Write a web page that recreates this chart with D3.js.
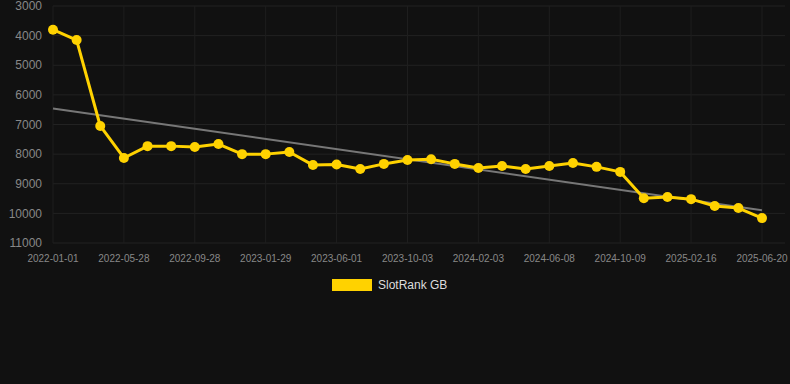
<!DOCTYPE html>
<html>
<head>
<meta charset="utf-8">
<script src="https://cdn.jsdelivr.net/npm/d3@7"></script>
<style>
  html, body { margin: 0; padding: 0; background: #111111; }
  svg { display: block; font-family: "Liberation Sans", Arial, sans-serif; }
</style>
</head>
<body>
<div id="chart"></div>
<script>
// dates between the labelled ones are estimates; the axis is a plain category axis
const dates = [
  "2022-01-01", "2022-02-19", "2022-04-09", "2022-05-28", "2022-07-08", "2022-08-18",
  "2022-09-28", "2022-11-08", "2022-12-19", "2023-01-29", "2023-03-11", "2023-04-21",
  "2023-06-01", "2023-07-12", "2023-08-23", "2023-10-03", "2023-11-13", "2023-12-24",
  "2024-02-03", "2024-03-15", "2024-04-27", "2024-06-08", "2024-07-19", "2024-08-29",
  "2024-10-09", "2024-11-21", "2025-01-04", "2025-02-16", "2025-03-29", "2025-05-09",
  "2025-06-20"
];
const rankValues = [
  3800, 4150, 7050, 8130, 7730, 7730, 7760, 7660, 8000, 8000, 7930,
  8370, 8350, 8500, 8330, 8200, 8170, 8330, 8470, 8400, 8500, 8400,
  8300, 8430, 8600, 9490, 9450, 9520, 9750, 9820, 10160
];
const yTicks = [3000, 4000, 5000, 6000, 7000, 8000, 9000, 10000, 11000];
const seriesName = "SlotRank GB";

const width = 790, height = 384;
const margin = { top: 6, right: 28, bottom: 141, left: 53 };
const lineColor = "#ffd200";

const svg = d3.select("#chart").append("svg")
  .attr("width", width)
  .attr("height", height);

const x = d3.scalePoint()
  .domain(d3.range(dates.length))
  .range([margin.left, width - margin.right]);

const y = d3.scaleLinear()
  .domain([3000, 11000])
  .range([margin.top, height - margin.bottom]);

// grid
svg.append("g")
  .selectAll("line")
  .data(yTicks)
  .join("line")
  .attr("x1", margin.left)
  .attr("x2", width - 5)
  .attr("y1", d => y(d))
  .attr("y2", d => y(d))
  .attr("stroke", "#222")
  .attr("stroke-width", 1);

const labelIdx = d3.range(0, dates.length, 3);

svg.append("g")
  .selectAll("line")
  .data(labelIdx)
  .join("line")
  .attr("x1", d => x(d))
  .attr("x2", d => x(d))
  .attr("y1", margin.top)
  .attr("y2", y(11000))
  .attr("stroke", "#1e1e1e")
  .attr("stroke-width", 1);

// y axis labels
svg.append("g")
  .selectAll("text")
  .data(yTicks)
  .join("text")
  .attr("x", 42)
  .attr("y", d => y(d))
  .attr("dy", "0.35em")
  .attr("text-anchor", "end")
  .attr("fill", "#888")
  .style("font-size", "12px")
  .text(d => d);

// x axis labels
svg.append("g")
  .selectAll("text")
  .data(labelIdx)
  .join("text")
  .attr("x", d => x(d))
  .attr("y", y(11000) + 19)
  .attr("text-anchor", "middle")
  .attr("fill", "#888")
  .style("font-size", "10px")
  .text(d => dates[d]);

// trend line (least squares over the points)
const idx = d3.range(rankValues.length);
const mx = d3.mean(idx), my = d3.mean(rankValues);
const slope = d3.sum(idx, i => (i - mx) * (rankValues[i] - my)) / d3.sum(idx, i => (i - mx) ** 2);
const icpt = my - slope * mx;
const first = 0, last = rankValues.length - 1;

svg.append("line")
  .attr("x1", x(first))
  .attr("y1", y(icpt + slope * first))
  .attr("x2", x(last))
  .attr("y2", y(icpt + slope * last))
  .attr("stroke", "#777")
  .attr("stroke-width", 2);

// series
const line = d3.line()
  .x((d, i) => x(i))
  .y(d => y(d));

svg.append("path")
  .datum(rankValues)
  .attr("d", line)
  .attr("fill", "none")
  .attr("stroke", lineColor)
  .attr("stroke-width", 3)
  .attr("stroke-linejoin", "round");

svg.append("g")
  .selectAll("circle")
  .data(rankValues)
  .join("circle")
  .attr("cx", (d, i) => x(i))
  .attr("cy", d => y(d))
  .attr("r", 5)
  .attr("fill", lineColor);

// legend
const legend = svg.append("g").attr("transform", "translate(332,279)");
legend.append("rect")
  .attr("width", 40)
  .attr("height", 12)
  .attr("fill", lineColor);
legend.append("text")
  .attr("x", 46)
  .attr("y", 6)
  .attr("dy", "0.35em")
  .attr("fill", "#ddd")
  .style("font-size", "12px")
  .text(seriesName);
</script>
</body>
</html>
